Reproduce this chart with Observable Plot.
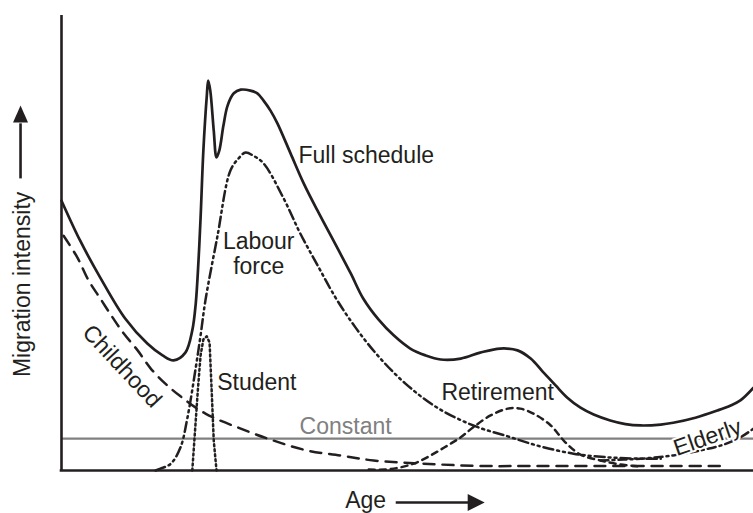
<!DOCTYPE html>
<html>
<head>
<meta charset="utf-8">
<script src="https://cdn.jsdelivr.net/npm/d3@7"></script>
<script src="https://cdn.jsdelivr.net/npm/@observablehq/plot@0.6"></script>
<style>
  html, body { margin: 0; padding: 0; background: #fff; }
  #chart svg { display: block; }
</style>
</head>
<body>
<div id="chart"></div>
<script>
// ---- Data (age on x, migration intensity on y; schematic units 0–100) ----
const fullAge  = [0,2.7,5.6,9.2,12.4,14.6,16.2,17.9,18.9,19.4,19.8,20.1,20.5,21.0,21.2,21.5,22.0,22.4,22.8,23.4,24.0,24.9,25.9,27.3,28.3,29.2,30.2,31.2,33.1,35.0,37.0,39.9,41.8,43.6,45.8,48.0,50.4,52.6,54.8,57.7,60.5,63.4,65.9,67.8,69.5,71.4,73.1,75.0,76.9,79.3,81.5,83.7,86.6,88.4,91.6,94.8,96.7,98.1,100];
const fullRate = [59.3,50.5,42.4,33.4,27.9,25.3,24.2,25.9,30.8,36.7,46.2,55.6,70.3,82.4,85.7,83.5,74.7,68.8,70.3,75.8,80.2,82.9,83.7,83.5,82.9,81.3,79.1,76.3,69.7,63.1,57.1,48.8,43.3,37.8,33.2,29.7,26.8,25.3,24.4,24.6,25.9,26.8,26.4,24.6,21.8,18.7,16.0,13.8,12.3,11.0,10.2,9.9,10.1,10.5,11.6,13.2,14.3,15.4,18.2];

const labourAge  = [13.6,14.3,15.8,17.2,18.2,19.4,20.1,20.8,22.5,24.4,25.6,26.6,27.7,29.2,32.1,34.5,37.0,39.6,42.5,45.8,49.7,54.3,59.5,64.5,69.2,74.0,78.9,83.7,86.6];
const labourRate = [0,0.4,1.5,5.1,11.6,22.6,29.7,37.4,51.2,65.9,68.6,69.9,69.2,67.5,59.8,52.1,45.1,38.0,31.4,25.1,19.1,13.8,9.9,7.5,5.3,3.7,2.9,2.6,2.6];

const studentAge  = [18.9,19.2,19.7,20.1,20.5,21.0,21.4,21.7,22.0,22.4];
const studentRate = [0,6.6,17.6,25.3,28.8,29.5,28.1,17.6,6.6,0];

const childAge  = [0.3,2.3,3.9,5.6,7.4,9.0,11.0,12.9,15.0,17.2,20.8,25.9,30.6,35.5,40.3,45.1,52.3,60.5,70.2,96.2];
const childRate = [51.6,46.8,41.8,37.8,33.6,30.1,26.4,22.4,19.1,16.3,12.5,9.2,6.6,4.4,3.3,2.2,1.5,1.0,1.0,1.0];

const retireAge  = [44.4,46.8,49.0,51.4,53.8,55.8,57.7,59.5,62.0,64.5,66.3,68.2,70.7,72.8,75.0,77.9,80.8,83.7];
const retireRate = [0.2,0.2,0.7,1.8,3.7,5.5,7.3,9.5,12.1,13.6,13.6,12.5,9.9,6.2,3.5,2.2,1.3,0.9];

const elderAge  = [77.9,83.7,88.4,92.3,95.7,98.1,100];
const elderRate = [2.2,2.6,3.3,4.4,5.7,7.3,9.2];

const constantRate = 7.0;

const labels = {
  full: "Full schedule",
  labour: "Labour\nforce",
  student: "Student",
  constant: "Constant",
  retirement: "Retirement",
  childhood: "Childhood",
  elderly: "Elderly",
  xTitle: "Age",
  yTitle: "Migration intensity"
};

// ---- helpers ----
const zip = (a, b) => a.map((x, i) => ({age: x, rate: b[i]}));
const INK = "#231f20";
const GREY = "#808080";
const FONT = "'Liberation Sans', Arial, Helvetica, sans-serif";
const FS = 23;
const one = [0];

const lineOpts = (extra) => Object.assign({x: "age", y: "rate", stroke: INK, strokeWidth: 2.5, curve: "catmull-rom", strokeLinejoin: "round"}, extra);

const chart = Plot.plot({
  width: 753,
  height: 513,
  marginLeft: 61,
  marginRight: 0,
  marginTop: 15,
  marginBottom: 43,
  x: {domain: [0, 100], axis: null},
  y: {domain: [0, 100], axis: null},
  style: {fontFamily: FONT, fontSize: FS + "px", color: INK, background: "#fff"},
  marks: [
    // constant component
    Plot.ruleY([constantRate], {x1: 0, x2: 100, stroke: GREY, strokeWidth: 2.2}),
    // component curves
    Plot.line(zip(childAge, childRate), lineOpts({strokeDasharray: "11,8"})),
    Plot.line(zip(retireAge, retireRate), lineOpts({strokeDasharray: "6,5"})),
    Plot.line(zip(elderAge, elderRate), lineOpts({strokeDasharray: "8,4,2,4"})),
    Plot.line(zip(labourAge, labourRate), lineOpts({strokeDasharray: "10,4,2,4,2,4"})),
    Plot.line(zip(studentAge, studentRate), lineOpts({strokeDasharray: "2,3", curve: "linear"})),
    Plot.line(zip(fullAge, fullRate), lineOpts({strokeWidth: 2.7})),
    // axes
    Plot.ruleX(one, {x: 0, y1: 0, y2: 100, stroke: INK, strokeWidth: 2.6}),
    Plot.ruleY(one, {y: 0, x1: -0.19, x2: 100, stroke: INK, strokeWidth: 2.6}),
    // curve labels
    Plot.text(one, {x: 34.25, y: 67.5, text: () => labels.full, textAnchor: "start", lineAnchor: "bottom", fontSize: FS, fill: INK}),
    Plot.text(one, {x: 28.5, y: 43.1, text: () => labels.labour, textAnchor: "middle", lineAnchor: "bottom", lineHeight: 1.09, fontSize: FS, fill: INK}),
    Plot.text(one, {x: 22.5, y: 17.8, text: () => labels.student, textAnchor: "start", lineAnchor: "bottom", fontSize: FS, fill: INK}),
    Plot.text(one, {x: 34.4, y: 8.1, text: () => labels.constant, textAnchor: "start", lineAnchor: "bottom", fontSize: FS, fill: GREY}),
    Plot.text(one, {x: 54.9, y: 15.4, text: () => labels.retirement, textAnchor: "start", lineAnchor: "bottom", fontSize: FS, fill: INK}),
    Plot.text(one, {x: 8.74, y: 22.9, text: () => labels.childhood, textAnchor: "middle", lineAnchor: "middle", rotate: 47, fontSize: FS, fill: INK}),
    Plot.text(one, {x: 93.35, y: 7.25, text: () => labels.elderly, textAnchor: "middle", lineAnchor: "middle", rotate: -19, fontSize: FS, fill: INK, stroke: "white", strokeWidth: 4}),
    // axis titles with arrows
    Plot.text(one, {x: 41.0, y: -8.35, text: () => labels.xTitle, textAnchor: "start", lineAnchor: "bottom", fontSize: FS, fill: INK}),
    Plot.link(one, {x1: 48.3, x2: 58.9, y1: -7.03, y2: -7.03, stroke: INK, strokeWidth: 2.6}),
    Plot.vector(one, {x: 58.7, y: -7.03, length: 17, rotate: 90, anchor: "start", shape: "spike", r: 8.5, fill: INK, stroke: "none"}),
    Plot.text(one, {x: -4.62, y: 40.9, text: () => labels.yTitle, textAnchor: "middle", lineAnchor: "bottom", rotate: -90, fontSize: FS, fill: INK}),
    Plot.link(one, {x1: -5.92, x2: -5.92, y1: 64.2, y2: 76.3, stroke: INK, strokeWidth: 2.6}),
    Plot.vector(one, {x: -5.92, y: 76.5, length: 17, rotate: 0, anchor: "start", shape: "spike", r: 7.5, fill: INK, stroke: "none"})
  ]
});
document.getElementById("chart").appendChild(chart);
</script>
</body>
</html>
